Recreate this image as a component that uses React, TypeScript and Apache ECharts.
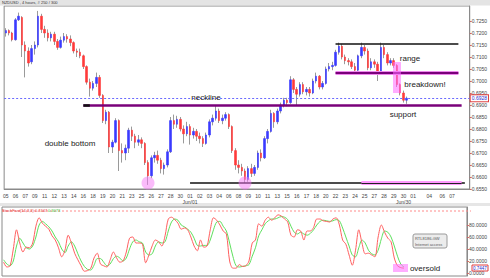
import React, { useEffect, useRef } from "react";
import * as echarts from "echarts";

// ---- data (prices in pips: 7205 = 0.7205) ----
// each candle: [open, close, low, high]
const candlesPips: number[][] = [
  [7200,7210,7185,7220],[7210,7200,7190,7215],[7200,7172,7165,7205],[7172,7255,7168,7262],
  [7255,7270,7250,7285],[7265,7150,7100,7270],[7150,7125,7015,7165],[7125,7075,7060,7140],
  [7080,7135,7070,7150],[7135,7150,7110,7165],[7150,7270,7140,7292],[7270,7215,7200,7280],
  [7215,7200,7180,7230],[7200,7180,7165,7215],[7180,7195,7165,7205],[7195,7165,7150,7205],
  [7165,7140,7130,7175],[7140,7170,7135,7185],[7170,7185,7160,7200],[7185,7175,7160,7195],
  [7175,7160,7145,7190],[7160,7125,7115,7165],[7125,7120,7100,7135],[7120,7105,7095,7135],
  [7105,7060,7050,7110],[7060,6995,6985,7065],[6995,6970,6935,7010],[6970,6990,6960,7000],
  [6990,7015,6975,7035],[7015,6940,6930,7025],[6940,6835,6825,6945],[6835,6870,6820,6880],
  [6870,6725,6700,6875],[6725,6745,6700,6755],[6745,6835,6740,6845],[6835,6710,6625,6840],
  [6710,6700,6660,6740],[6700,6720,6670,6735],[6720,6795,6700,6805],[6795,6770,6750,6810],
  [6770,6745,6720,6780],[6745,6755,6730,6775],[6755,6740,6720,6765],[6740,6660,6650,6745],
  [6660,6605,6567,6670],[6605,6680,6595,6690],[6680,6690,6660,6705],[6690,6670,6655,6710],
  [6670,6635,6615,6680],[6635,6650,6610,6660],[6650,6705,6640,6715],[6705,6835,6700,6850],
  [6835,6820,6800,6860],[6820,6840,6805,6855],[6840,6800,6790,6850],[6800,6780,6740,6815],
  [6780,6810,6770,6830],[6810,6775,6735,6820],[6775,6790,6760,6805],[6790,6770,6750,6800],
  [6770,6760,6740,6785],[6760,6740,6725,6770],[6740,6775,6735,6785],[6775,6830,6765,6840],
  [6830,6845,6815,6860],[6845,6875,6835,6900],[6875,6835,6825,6885],[6835,6845,6820,6860],
  [6845,6860,6835,6870],[6860,6810,6800,6865],[6810,6710,6700,6815],[6710,6650,6630,6720],
  [6650,6640,6615,6670],[6640,6625,6605,6655],[6625,6590,6575,6635],[6590,6635,6580,6645],
  [6635,6615,6600,6655],[6615,6640,6605,6650],[6640,6700,6630,6710],[6700,6680,6665,6715],
  [6680,6760,6675,6770],[6760,6790,6740,6800],[6790,6865,6785,6880],[6865,6830,6805,6870],
  [6830,6875,6820,6885],[6875,6900,6865,6910],[6900,6920,6890,6930],[6920,6910,6895,6930],
  [6910,7005,6905,7020],[7005,6965,6950,7012],[6965,6945,6900,6975],[6945,6985,6935,6995],
  [6985,6955,6945,6995],[6955,6965,6940,6975],[6965,6950,6935,6975],[6950,7000,6945,7010],
  [7000,7020,6990,7035],[7020,6975,6965,7025],[6975,6990,6965,7000],[6990,7050,6985,7060],
  [7050,7060,7040,7075],[7060,7065,7045,7080],[7065,7120,7060,7130],[7120,7145,7110,7160],
  [7145,7100,7090,7155],[7100,7085,7070,7110],[7085,7080,7065,7095],[7080,7060,7050,7090],
  [7060,7045,7035,7075],[7045,7105,7040,7110],[7105,7140,7095,7160],[7140,7125,7110,7150],
  [7125,7055,7045,7135],[7055,7080,7045,7095],[7080,7070,7055,7090],[7070,7040,7000,7080],
  [7040,7140,7035,7160],[7140,7110,7095,7150],[7110,7075,7065,7120],[7075,7085,7065,7095],
  [7085,7065,7055,7095],[7065,6985,6975,7070],[6985,6950,6940,6990],[6950,6920,6910,6960],
  [6920,6928,6905,6935],
];

const stochK: number[] = [
  18,10,12,40,72,50,35,43,42,50,78,92,83,78,73,62,55,42,27,38,63,50,33,22,12,3,4,8,25,33,
  15,12,10,22,35,25,18,20,35,58,60,50,50,48,17,30,45,55,52,45,62,90,93,89,83,73,75,72,60,45,
  37,55,43,45,72,92,88,80,70,65,20,8,8,14,11,12,20,50,55,82,78,88,93,88,92,97,95,90,85,63,
  60,72,70,55,70,70,76,90,90,87,86,85,90,92,80,55,48,30,13,38,72,50,32,33,30,27,60,80,68,58,
  52,25,12,9,8,
];
const stochD: number[] = [
  22,15,12,20,45,58,50,42,40,45,60,80,86,82,77,70,60,52,40,34,45,52,45,32,20,11,6,5,13,24,
  24,18,12,15,24,28,25,20,25,40,52,55,52,50,35,30,32,45,52,50,52,70,85,90,88,80,77,73,68,58,
  46,45,46,46,55,72,85,86,78,70,50,28,12,10,11,12,14,28,42,62,72,82,87,90,90,92,94,93,89,78,
  68,65,68,65,63,66,72,80,86,88,87,86,87,89,87,75,60,45,30,27,42,55,50,38,32,30,38,57,70,68,
  60,45,28,15,10,
];

const mayDays = ["05","06","07","09","11","12","13","14","16","18","19","20","21","23","25","26","27","28","30"];
const junDays = ["01","02","03","04","06","08","09","10","11","13","15","16","17","18","20","22","23","24","25","27","28","29","30"];
const julySlots = ["01","","","","","04","","","","06","","","07","","","","",""];
const monthNames = ["Jun/01", "Jun/30"];

const priceTicks = [0.655,0.66,0.665,0.67,0.675,0.68,0.685,0.69,0.695,0.70,0.705,0.71,0.715,0.72,0.725];
const stochTicks = [0, 20, 40, 60, 80];

const lastPrice = 0.6928;
const necklineLevel = 0.69;
const rangeTop = 0.7155;
const rangeBottom = 0.7033;
const bottomLevel = 0.6575;
const stochLast = "0.7447";
const stochSignal = "0.3073";

// ---- build ----
const BARS_PER_DAY = 3;
const juneDays = junDays.map((d, i) =>
  i === 0 ? d + "\n" + monthNames[0] : i === junDays.length - 1 ? d + "\n" + monthNames[1] : d
);
const categories: string[] = [...mayDays, ...juneDays]
  .flatMap((d) => [d, ...Array(BARS_PER_DAY - 1).fill("")])
  .concat(julySlots);

const candles = candlesPips.map((c) => c.map((v) => v / 10000));
const bodies = candles.map(([o, c]) => [o, c, Math.min(o, c), Math.max(o, c)]);

const FONT = "'Liberation Sans', Arial, sans-serif";
const showLabel = (_i: number, v: string) => v !== "";

const seg = (x1: number, x2: number, y: number, color: string, width: number) => [
  { coord: [x1, y], lineStyle: { color, width, type: "solid" }, label: { show: false } },
  { coord: [x2, y] },
];

const annText = (text: string, x: number, y: number) => ({
  type: "text",
  x,
  y,
  z: 50,
  style: { text, fill: "#222", fontSize: 8, fontFamily: FONT, align: "center", verticalAlign: "middle" },
});

export default function App() {
  const ref = useRef<HTMLDivElement>(null);
  useEffect(() => {
    const chart = echarts.init(ref.current!, null, { renderer: "svg" });
    const option: any = {
      animation: false,
      backgroundColor: "#ffffff",
      grid: [
        { left: 2, top: 6, width: 469, height: 183, show: true, borderColor: "#8a8a8a", borderWidth: 1, backgroundColor: "#fff" },
        { left: 2, top: 207, width: 469, height: 69, show: true, borderColor: "#8a8a8a", borderWidth: 1, backgroundColor: "#fff" },
      ],
      xAxis: [
        {
          type: "category",
          gridIndex: 0,
          data: categories,
          boundaryGap: true,
          axisLine: { lineStyle: { color: "#8a8a8a" } },
          axisTick: { alignWithLabel: true, interval: showLabel, length: 2, lineStyle: { color: "#cc6666" } },
          axisLabel: { interval: showLabel, fontSize: 5, color: "#444", margin: 4, lineHeight: 6, fontFamily: FONT },
          splitLine: { show: false },
        },
        {
          type: "category",
          gridIndex: 1,
          data: categories,
          boundaryGap: true,
          axisLine: { show: false },
          axisTick: { show: false },
          axisLabel: { show: false },
          splitLine: { show: false },
        },
      ],
      yAxis: [
        {
          type: "value",
          gridIndex: 0,
          position: "right",
          min: 0.655,
          max: 0.73125,
          axisLine: { show: true, lineStyle: { color: "#8a8a8a" } },
          axisTick: { show: true, customValues: priceTicks, length: 2, inside: false, lineStyle: { color: "#cc6666" } },
          axisLabel: { customValues: priceTicks, formatter: (v: number) => v.toFixed(4), fontSize: 5, color: "#444", margin: 2, fontFamily: FONT },
          splitLine: { show: false },
        },
        {
          type: "value",
          gridIndex: 1,
          position: "right",
          min: -5,
          max: 110,
          axisLine: { show: true, lineStyle: { color: "#8a8a8a" } },
          axisTick: { show: true, customValues: stochTicks, length: 2, lineStyle: { color: "#cc6666" } },
          axisLabel: { customValues: stochTicks, formatter: (v: number) => v.toFixed(4), fontSize: 5, color: "#444", margin: 2, fontFamily: FONT },
          splitLine: { show: false },
        },
      ],
      series: [
        {
          name: "wicks",
          type: "candlestick",
          xAxisIndex: 0,
          yAxisIndex: 0,
          data: candles,
          barWidth: 1,
          itemStyle: { color: "#9a9a9a", color0: "#9a9a9a", borderColor: "#9a9a9a", borderColor0: "#9a9a9a", borderWidth: 1 },
          z: 2,
        },
        {
          name: "bodies",
          type: "candlestick",
          xAxisIndex: 0,
          yAxisIndex: 0,
          data: bodies,
          barWidth: 2,
          itemStyle: { color: "#3a3aff", color0: "#ff3a3a", borderColor: "#3a3aff", borderColor0: "#ff3a3a", borderWidth: 0.6 },
          z: 3,
          markLine: {
            silent: true,
            symbol: ["none", "none"],
            precision: 4,
            animation: false,
            data: [
              {
                yAxis: lastPrice,
                lineStyle: { color: "#6a6aff", width: 1, type: [2, 2] },
                label: {
                  show: true,
                  position: "end",
                  distance: 1,
                  formatter: lastPrice.toFixed(4),
                  color: "#2a2ad0",
                  fontSize: 5,
                  fontFamily: FONT,
                  backgroundColor: "#fff",
                  borderColor: "#e04040",
                  borderWidth: 1,
                  padding: [1, 1, 0, 1],
                },
              },
              seg(24, 141, necklineLevel, "#7a007a", 2.5),
              seg(24, 26, necklineLevel, "#111", 2.5),
              seg(102, 140, rangeTop, "#111", 1.6),
              seg(102, 140, rangeBottom, "#ee88ee", 4),
              seg(102, 140, rangeBottom, "#7a007a", 2),
              seg(57, 142, bottomLevel, "#111", 1.6),
              seg(110, 141, bottomLevel, "#ff99ff", 4),
              seg(110, 141, bottomLevel, "#222", 1),
            ],
          },
          markPoint: {
            silent: true,
            symbol: "circle",
            symbolSize: 13,
            itemStyle: { color: "rgba(245,120,245,0.5)" },
            label: { show: false },
            data: [{ coord: [44, bottomLevel] }, { coord: [74, bottomLevel] }],
          },
        },
        {
          name: "StochD",
          type: "line",
          xAxisIndex: 1,
          yAxisIndex: 1,
          data: stochD,
          showSymbol: false,
          smooth: 0.3,
          lineStyle: { color: "#5ee05e", width: 1 },
          z: 3,
        },
        {
          name: "StochK",
          type: "line",
          xAxisIndex: 1,
          yAxisIndex: 1,
          data: stochK,
          showSymbol: false,
          smooth: 0.3,
          lineStyle: { color: "#ff6060", width: 1 },
          z: 4,
        },
      ],
      graphic: [
        { type: "rect", shape: { x: 0, y: 0, width: 490, height: 5.5 }, style: { fill: "#e4e4e4" }, z: 0 },
        { type: "text", x: 2, y: 0.5, style: { text: "NZDUSD , 4 hours, # 250 / 300", fill: "#333", fontSize: 4, fontFamily: FONT } },
        { type: "rect", shape: { x: 0, y: 203, width: 490, height: 3 }, style: { fill: "#e6e6e6" }, z: 0 },
        { type: "line", shape: { x1: 2, y1: 211, x2: 471, y2: 211 }, style: { stroke: "#ff8a8a", lineWidth: 1, lineDash: [2, 2] }, z: 20 },
        { type: "text", x: 2, y: 208, z: 30, style: { text: "StochFast(14,3,3) " + stochLast, fill: "#e03030", fontSize: 4, fontFamily: FONT } },
        { type: "text", x: 48, y: 208, z: 30, style: { text: stochSignal, fill: "#30c030", fontSize: 4, fontFamily: FONT } },
        { type: "rect", shape: { x: 393, y: 62, width: 8, height: 31 }, style: { fill: "rgba(255,105,255,0.55)" }, z: 40 },
        { type: "rect", shape: { x: 393, y: 264, width: 15, height: 8 }, style: { fill: "rgba(255,105,255,0.55)" }, z: 40 },
        { type: "rect", shape: { x: 413, y: 234, width: 34, height: 14, r: 2 }, style: { fill: "#ececec", stroke: "#9a9a9a", lineWidth: 1 }, z: 40 },
        { type: "text", x: 415, y: 236, z: 41, style: { text: "RTL8186-GW", fill: "#555", fontSize: 4, fontFamily: FONT } },
        { type: "text", x: 415, y: 242, z: 41, style: { text: "Internet access", fill: "#555", fontSize: 4, fontFamily: FONT } },
        { type: "rect", shape: { x: 472, y: 265, width: 16, height: 6 }, style: { fill: "#fff", stroke: "#e04040", lineWidth: 1 }, z: 40 },
        { type: "text", x: 473, y: 266, z: 41, style: { text: stochLast, fill: "#2a2ad0", fontSize: 4.5, fontFamily: FONT } },
        annText("neckline", 206, 97),
        annText("double bottom", 70, 143),
        annText("range", 410, 58),
        annText("breakdown!", 425, 84),
        annText("support", 403, 114),
        annText("oversold", 425, 268),
      ],
    };
    chart.setOption(option);
    return () => chart.dispose();
  }, []);
  return <div ref={ref} style={{ position: "fixed", left: 0, top: 0, width: 490, height: 278 }} />;
}
